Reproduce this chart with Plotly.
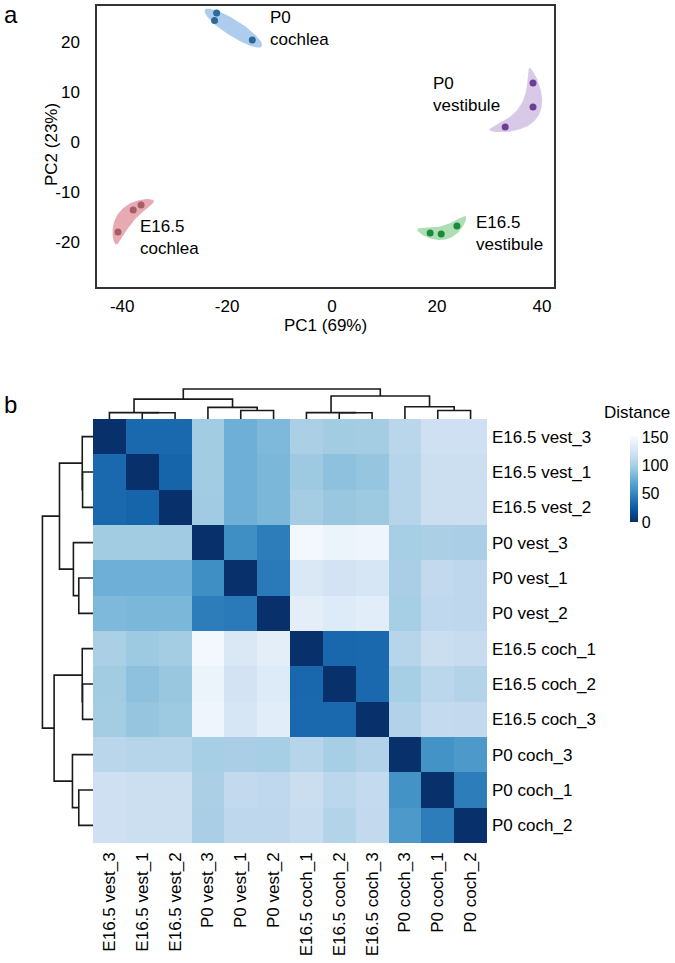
import numpy as np
import plotly.graph_objects as go

W, H = 675, 963
FONT = "Liberation Sans, Arial, sans-serif"

# ---- panel a: PCA scores ----
p0_coch_pc1 = [-22.0, -22.4, -15.2]
p0_coch_pc2 = [25.8, 24.3, 20.4]
p0_vest_pc1 = [38.3, 38.3, 33.0]
p0_vest_pc2 = [11.8, 7.0, 3.0]
e16_vest_pc1 = [18.7, 20.8, 23.8]
e16_vest_pc2 = [-18.2, -18.4, -16.8]
e16_coch_pc1 = [-40.8, -37.9, -36.4]
e16_coch_pc2 = [-18.0, -13.6, -12.6]

x_ticks = [-40, -20, 0, 20, 40]
y_ticks = [-20, -10, 0, 10, 20]

# ---- panel b: sample distance matrix ----
samples = ["E16.5 vest_3", "E16.5 vest_1", "E16.5 vest_2",
           "P0 vest_3", "P0 vest_1", "P0 vest_2",
           "E16.5 coch_1", "E16.5 coch_2", "E16.5 coch_3",
           "P0 coch_3", "P0 coch_1", "P0 coch_2"]

dist = [
    [0, 33, 33, 97, 77, 83, 101, 97, 98, 108, 120, 120],
    [33, 0, 30, 97, 77, 82, 95, 89, 92, 107, 119, 119],
    [33, 30, 0, 96, 77, 82, 98, 93, 95, 107, 119, 119],
    [97, 97, 96, 0, 55, 45, 148, 143, 145, 99, 101, 100],
    [77, 77, 77, 55, 0, 43, 130, 124, 127, 100, 112, 110],
    [83, 82, 82, 45, 43, 0, 137, 132, 135, 99, 111, 110],
    [101, 95, 98, 148, 130, 137, 0, 32, 33, 107, 117, 115],
    [97, 89, 93, 143, 124, 132, 32, 0, 33, 99, 109, 105],
    [98, 92, 95, 145, 127, 135, 33, 33, 0, 104, 113, 112],
    [108, 107, 107, 99, 100, 99, 107, 99, 104, 0, 58, 62],
    [120, 119, 119, 101, 112, 111, 117, 109, 113, 58, 0, 45],
    [120, 119, 119, 100, 110, 110, 115, 105, 112, 62, 45, 0],
]

# hierarchical clustering: merges of leaves (0-11) / earlier clusters (12+)
link_left = [1, 0, 4, 3, 13, 7, 6, 10, 9, 18, 16]
link_right = [2, 12, 5, 14, 15, 8, 17, 11, 19, 20, 21]
link_height = [33, 34, 45, 62, 106, 33, 34, 45, 65, 123, 160]

BLUES_R = [[0.0, "#08306b"], [0.125, "#08519c"], [0.25, "#2171b5"],
           [0.375, "#4292c6"], [0.5, "#6baed6"], [0.625, "#9ecae1"],
           [0.75, "#c6dbef"], [0.875, "#deebf7"], [1.0, "#f7fbff"]]


def px_x(p):
    return p / W


def px_y(p):
    return 1 - p / H


def blob(xs, ys, pad=2.2, half_w=1.7, bend=0.06, n=80):
    """crescent-ish hull round a group of points"""
    x = np.array(xs, float)
    y = np.array(ys, float)
    cx, cy = x.mean(), y.mean()
    pts = np.c_[x - cx, y - cy]
    _, _, vt = np.linalg.svd(pts)
    u = vt[0]
    v = np.array([-u[1], u[0]])
    s = pts @ u
    w = pts @ v
    k = np.polyfit(s, w, 2)
    k[0] = np.clip(k[0], -bend, bend)
    k[1:] = np.polyfit(s, w - k[0] * s ** 2, 1)
    lo, hi = s.min() - pad, s.max() + pad
    t = np.linspace(0, np.pi, n)
    ss = (lo + hi) / 2 - (hi - lo) / 2 * np.cos(t)
    th = half_w * np.sin(t)
    mid = np.polyval(k, ss)
    s_all = np.r_[ss, ss[::-1]]
    w_all = np.r_[mid + th, (mid - th)[::-1]]
    return cx + s_all * u[0] + w_all * v[0], cy + s_all * u[1] + w_all * v[1]


def dendro(left, right, height, n):
    pos = list(range(n))
    hgt = [0.0] * n
    xs, ys = [], []
    for a, b, h in zip(left, right, height):
        xs += [pos[a], pos[a], pos[b], pos[b], None]
        ys += [hgt[a], h, h, hgt[b], None]
        pos.append((pos[a] + pos[b]) / 2)
        hgt.append(h)
    return xs, ys


fig = go.Figure()

groups = [
    (p0_coch_pc1, p0_coch_pc2, "rgba(160,195,235,0.85)", "rgb(45,105,150)", "P0<br>cochlea", -12.3, 22.7, 1.6, 0.0),
    (p0_vest_pc1, p0_vest_pc2, "rgba(212,196,228,0.9)", "rgb(110,62,150)", "P0<br>vestibule", 18.9, 9.6, 2.0, 0.08),
    (e16_vest_pc1, e16_vest_pc2, "rgba(165,220,172,0.9)", "rgb(28,138,58)", "E16.5<br>vestibule", 27.0, -18.2, 1.4, 0.08),
    (e16_coch_pc1, e16_coch_pc2, "rgba(228,160,170,0.9)", "rgb(168,92,102)", "E16.5<br>cochlea", -37.0, -19.0, 1.6, 0.08),
]

for xs, ys, fill, dot, label, lx, ly, hw, bend in groups:
    bx, by = blob(xs, ys, half_w=hw, bend=bend)
    fig.add_trace(go.Scatter(x=bx, y=by, mode="lines", fill="toself", fillcolor=fill,
                             line=dict(width=0), hoverinfo="skip", showlegend=False,
                             xaxis="x", yaxis="y"))
    fig.add_trace(go.Scatter(x=xs, y=ys, mode="markers", marker=dict(size=7, color=dot),
                             showlegend=False, xaxis="x", yaxis="y"))
    fig.add_annotation(x=lx, y=ly, xref="x", yref="y", text=label, showarrow=False,
                       xanchor="left", yanchor="middle", align="left",
                       font=dict(size=17, color="black", family=FONT))

# heatmap
idx = list(range(len(samples)))
fig.add_trace(go.Heatmap(
    z=dist, x=idx, y=idx, colorscale=BLUES_R, zmin=0, zmax=152,
    xaxis="x2", yaxis="y2", xgap=0, ygap=0,
    colorbar=dict(x=px_x(630), xanchor="left", y=px_y(479), yanchor="middle",
                  len=86 / H, lenmode="fraction", thickness=8, outlinewidth=0,
                  tickvals=[0, 50, 100, 150], ticks="", ticklabelposition="outside",
                  tickfont=dict(size=16, family=FONT, color="black"), xpad=0, ypad=0),
))

# dendrograms
dx, dy = dendro(link_left, link_right, link_height, len(samples))
line = dict(color="#1a1a1a", width=1.6)
fig.add_trace(go.Scatter(x=dx, y=dy, mode="lines", line=line, hoverinfo="skip",
                         showlegend=False, xaxis="x3", yaxis="y3"))
fig.add_trace(go.Scatter(x=dy, y=dx, mode="lines", line=line, hoverinfo="skip",
                         showlegend=False, xaxis="x4", yaxis="y4"))

tick_font = dict(size=17, family=FONT, color="black")
axis_line = dict(showline=True, linecolor="#333333", linewidth=1.5, mirror=True,
                 showgrid=False, zeroline=False, ticks="")

fig.update_layout(
    width=W, height=H,
    margin=dict(l=0, r=0, t=0, b=0),
    paper_bgcolor="white", plot_bgcolor="white",
    font=dict(family=FONT, color="black"),
    xaxis=dict(domain=[px_x(97), px_x(554)], range=[-44.8, 42.3], anchor="y",
               tickvals=x_ticks, ticktext=[str(v) for v in x_ticks],
               tickfont=tick_font, ticklabelstandoff=3, **axis_line),
    yaxis=dict(domain=[px_y(287), px_y(6)], range=[-29, 27.2], anchor="x",
               tickvals=y_ticks, ticktext=[str(v) for v in y_ticks],
               tickfont=tick_font, ticklabelstandoff=12, **axis_line),
    xaxis2=dict(domain=[px_x(93), px_x(487)], range=[-0.5, 11.5], anchor="y2",
                tickvals=idx, ticktext=samples, tickangle=-90, tickfont=tick_font,
                showgrid=False, zeroline=False, showline=False, ticks="",
                ticklabelstandoff=5),
    yaxis2=dict(domain=[px_y(843), px_y(419)], range=[11.5, -0.5], anchor="x2",
                side="right", tickvals=idx, ticktext=samples, tickfont=tick_font,
                showgrid=False, zeroline=False, showline=False, ticks="",
                ticklabelstandoff=4),
    xaxis3=dict(domain=[px_x(93), px_x(487)], range=[-0.5, 11.5], anchor="y3", visible=False),
    yaxis3=dict(domain=[px_y(419), px_y(384)], range=[0, 186.6], anchor="x3", visible=False),
    xaxis4=dict(domain=[px_x(38), px_x(93)], range=[174, 0], anchor="y4", visible=False),
    yaxis4=dict(domain=[px_y(843), px_y(419)], range=[11.5, -0.5], anchor="x4", visible=False),
)

notes = [
    ("a", 2, 14, 24, 0), ("b", 2, 404, 24, 0),
    ("PC1 (69%)", 325, 326, 17, 0), ("PC2 (23%)", 52, 145, 17, -90),
]
for text, x0, y0, size, ang in notes:
    fig.add_annotation(x=px_x(x0), y=px_y(y0), xref="paper", yref="paper", text=text,
                       showarrow=False, xanchor="left" if len(text) == 1 else "center",
                       yanchor="middle", textangle=ang,
                       font=dict(size=size, family=FONT, color="black"))
fig.add_annotation(x=px_x(672), y=px_y(412), xref="paper", yref="paper", text="Distance",
                   showarrow=False, xanchor="right", yanchor="middle",
                   font=dict(size=17, family=FONT, color="black"))

# drop the page's default 8px body margin so the figure sits at the window corner
fig.write_html("out.html", config={"displayModeBar": False},
               post_script="document.body.style.margin='0';")
